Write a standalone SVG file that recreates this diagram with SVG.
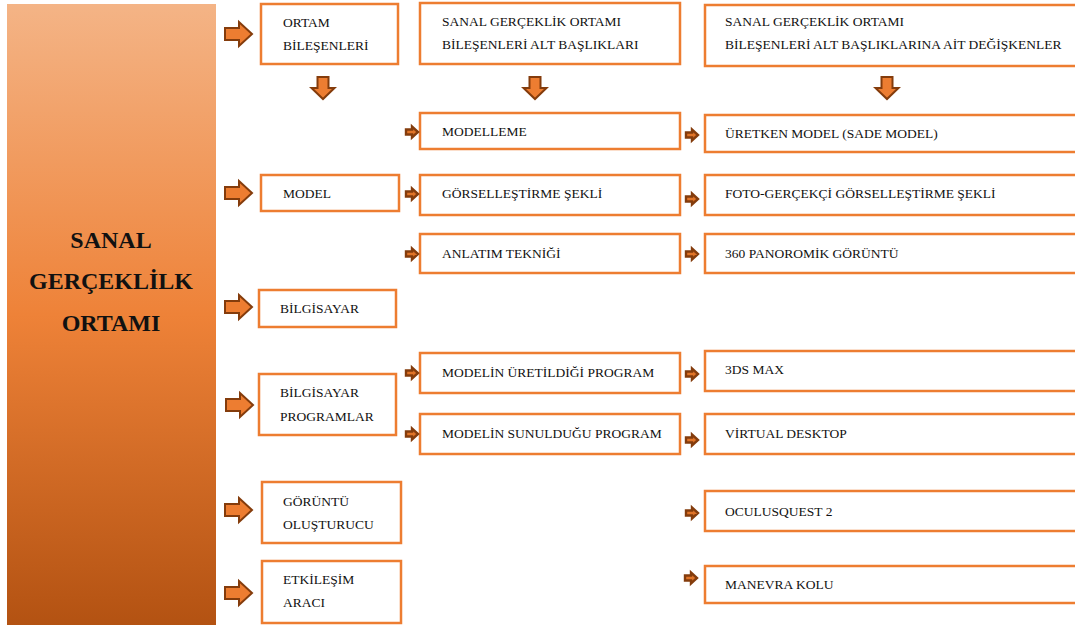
<svg xmlns="http://www.w3.org/2000/svg" xmlns:xlink="http://www.w3.org/1999/xlink" width="1075" height="625" viewBox="0 0 1075 625" font-family="Liberation Serif, DejaVu Serif, serif">
<style>
.box{fill:#fff;stroke:#ED7D31;stroke-width:2.5}
.t{font-family:'Liberation Serif','DejaVu Serif',serif;font-size:13.5px;fill:#111}
.title{font-family:'Liberation Serif','DejaVu Serif',serif;font-size:24px;font-weight:bold;fill:#111;text-anchor:middle}
.arr{fill:#ED7D31;stroke:#843C0C;stroke-width:2;stroke-linejoin:miter}
.sarr{fill:#E07428;stroke:#843C0C;stroke-width:2.4}
</style>
<defs>
<linearGradient id="g" x1="0" y1="0" x2="0" y2="1">
<stop offset="0" stop-color="#F4B486"/>
<stop offset="0.5" stop-color="#EE8238"/>
<stop offset="1" stop-color="#B35212"/>
</linearGradient>
<path id="big" d="M0,-6 H14 V-12 L27,0 L14,12 V6 H0 Z"/>
<path id="small" d="M0,-2.5 H6 V-5.5 L12,0 L6,5.5 V2.5 H0 Z"/>
<path id="down" d="M-5.5,0 H5.5 V11 H11.5 L0,22 L-11.5,11 H-5.5 Z"/>
</defs>
<rect width="1075" height="625" fill="#fff"/>

<g id="main">
<rect x="7" y="4" width="209" height="622" fill="url(#g)"/>
<text class="title" x="111" y="248">SANAL</text>
<text class="title" x="111" y="289">GERÇEKLİLK</text>
<text class="title" x="111" y="331">ORTAMI</text>
</g>

<g id="ortam-bilesenleri"><rect class="box" x="261" y="4" width="137" height="60"/><text class="t" x="283" y="27">ORTAM</text><text class="t" x="283" y="50">BİLEŞENLERİ</text></g>
<g id="alt-basliklar"><rect class="box" x="420" y="3" width="260" height="61"/><text class="t" x="442" y="26">SANAL GERÇEKLİK ORTAMI</text><text class="t" x="442" y="49">BİLEŞENLERİ ALT BAŞLIKLARI</text></g>
<g id="degiskenler"><rect class="box" x="705" y="5" width="374" height="61"/><text class="t" x="725" y="26">SANAL GERÇEKLİK ORTAMI</text><text class="t" x="725" y="49">BİLEŞENLERİ ALT BAŞLIKLARINA AİT DEĞİŞKENLER</text></g>

<g id="model"><rect class="box" x="261" y="175" width="138" height="36"/><text class="t" x="283" y="198">MODEL</text></g>
<g id="bilgisayar"><rect class="box" x="259" y="290" width="137" height="37"/><text class="t" x="280" y="313">BİLGİSAYAR</text></g>
<g id="bilgisayar-programlar"><rect class="box" x="259" y="374" width="137" height="61"/><text class="t" x="280" y="397">BİLGİSAYAR</text><text class="t" x="280" y="421">PROGRAMLAR</text></g>
<g id="goruntu-olusturucu"><rect class="box" x="262" y="482" width="139" height="61"/><text class="t" x="283" y="506">GÖRÜNTÜ</text><text class="t" x="283" y="529">OLUŞTURUCU</text></g>
<g id="etkilesim-araci"><rect class="box" x="262" y="561" width="139" height="62"/><text class="t" x="283" y="584">ETKİLEŞİM</text><text class="t" x="283" y="607">ARACI</text></g>

<g id="modelleme"><rect class="box" x="420" y="113" width="260" height="36"/><text class="t" x="442" y="136">MODELLEME</text></g>
<g id="gorsellestirme"><rect class="box" x="420" y="175" width="260" height="40"/><text class="t" x="442" y="198">GÖRSELLEŞTİRME ŞEKLİ</text></g>
<g id="anlatim"><rect class="box" x="420" y="234" width="260" height="39"/><text class="t" x="442" y="258">ANLATIM TEKNİĞİ</text></g>
<g id="uretildigi"><rect class="box" x="420" y="353" width="260" height="40"/><text class="t" x="442" y="377">MODELİN ÜRETİLDİĞİ PROGRAM</text></g>
<g id="sunuldugu"><rect class="box" x="420" y="414" width="260" height="40"/><text class="t" x="442" y="438">MODELİN SUNULDUĞU PROGRAM</text></g>

<g id="uretken"><rect class="box" x="705" y="115" width="374" height="37"/><text class="t" x="725" y="138">ÜRETKEN MODEL (SADE MODEL)</text></g>
<g id="foto"><rect class="box" x="705" y="175" width="374" height="40"/><text class="t" x="725" y="198">FOTO-GERÇEKÇİ GÖRSELLEŞTİRME ŞEKLİ</text></g>
<g id="panoromik"><rect class="box" x="705" y="234" width="374" height="39"/><text class="t" x="725" y="258">360 PANOROMİK GÖRÜNTÜ</text></g>
<g id="max"><rect class="box" x="705" y="351" width="374" height="40"/><text class="t" x="725" y="374">3DS MAX</text></g>
<g id="virtual"><rect class="box" x="705" y="414" width="374" height="40"/><text class="t" x="725" y="438">VİRTUAL DESKTOP</text></g>
<g id="oculus"><rect class="box" x="705" y="491" width="374" height="40"/><text class="t" x="725" y="516">OCULUSQUEST 2</text></g>
<g id="manevra"><rect class="box" x="705" y="566" width="374" height="37"/><text class="t" x="725" y="589">MANEVRA KOLU</text></g>

<g id="connectors">
<use xlink:href="#big" class="arr" x="225" y="34"/>
<use xlink:href="#big" class="arr" x="225" y="193"/>
<use xlink:href="#big" class="arr" x="225" y="307"/>
<use xlink:href="#big" class="arr" x="226" y="405"/>
<use xlink:href="#big" class="arr" x="225" y="510"/>
<use xlink:href="#big" class="arr" x="225" y="593"/>
<use xlink:href="#down" class="arr" x="323" y="77"/>
<use xlink:href="#down" class="arr" x="535" y="77"/>
<use xlink:href="#down" class="arr" x="887" y="77"/>
<use xlink:href="#small" class="sarr" x="406" y="132"/>
<use xlink:href="#small" class="sarr" x="406" y="194"/>
<use xlink:href="#small" class="sarr" x="406" y="254"/>
<use xlink:href="#small" class="sarr" x="406" y="373"/>
<use xlink:href="#small" class="sarr" x="406" y="434"/>
<use xlink:href="#small" class="sarr" x="686" y="135"/>
<use xlink:href="#small" class="sarr" x="686" y="199"/>
<use xlink:href="#small" class="sarr" x="686" y="254"/>
<use xlink:href="#small" class="sarr" x="686" y="374"/>
<use xlink:href="#small" class="sarr" x="686" y="440"/>
<use xlink:href="#small" class="sarr" x="686" y="513"/>
<use xlink:href="#small" class="sarr" x="685" y="578"/>
</g>
</svg>
